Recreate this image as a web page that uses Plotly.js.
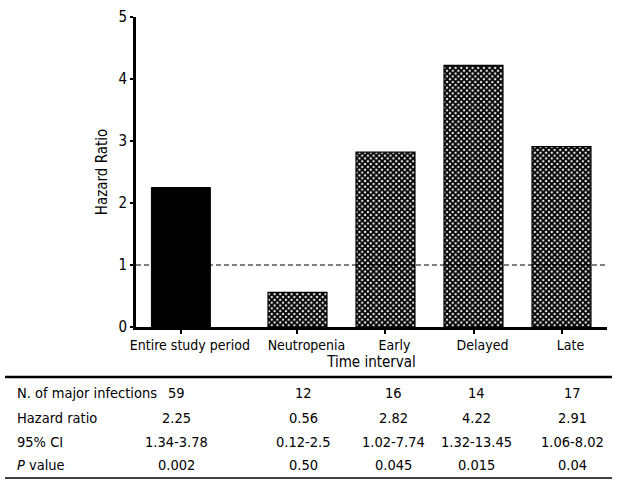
<!DOCTYPE html>
<html>
<head>
<meta charset="utf-8">
<script src="https://cdn.plot.ly/plotly-3.0.1.min.js"></script>
<style>html,body{margin:0;padding:0;background:#fff;}#chart{width:623px;height:487px;}</style>
</head>
<body>
<div id="chart"></div>
<script>
// ---- data ----
var categories = ["Entire study period", "Neutropenia", "Early", "Delayed", "Late"];
var hazardRatios = [2.25, 0.56, 2.82, 4.22, 2.91];
var nInfections = ["59", "12", "16", "14", "17"];
var hazardRatioText = ["2.25", "0.56", "2.82", "4.22", "2.91"];
var ci95 = ["1.34-3.78", "0.12-2.5", "1.02-7.74", "1.32-13.45", "1.06-8.02"];
var pValues = ["0.002", "0.50", "0.045", "0.015", "0.04"];
var rowLabels = ["N. of major infections", "Hazard ratio", "95% CI", "<i>P</i> value"];
var yTicks = [0, 1, 2, 3, 4, 5];
var referenceLine = 1;

// ---- layout helpers (positions) ----
var xPos = [0.51, 1.835, 2.835, 3.835, 4.835];
var FONT = "'Liberation Sans Narrow', 'DejaVu Sans Condensed', 'Arial Narrow', sans-serif";
var plotL = 136, plotR = 607, plotT = 17, plotB = 327;
function px2x(px){ return (px - plotL) / (plotR - plotL); }
function py2y(py){ return (plotB - py) / (plotB - plotT); }

var solid = {
  type: "bar", x: [xPos[0]], y: [hazardRatios[0]], width: 0.67,
  marker: {color: "#000", line: {color: "#000", width: 1}},
  hoverinfo: "skip", showlegend: false
};
var patterned = {
  type: "bar", x: xPos.slice(1), y: hazardRatios.slice(1), width: 0.67,
  marker: {color: "#fff", line: {color: "#000", width: 1.2},
    pattern: {shape: "x", size: 4, solidity: 0.72, fgcolor: "#000", bgcolor: "#fff", fillmode: "replace"}},
  hoverinfo: "skip", showlegend: false
};

var annotations = [];
var colX = [176, 303, 393, 476, 572];
var rowY = [393, 418, 442, 465];
var rows = [nInfections, hazardRatioText, ci95, pValues];
for (var r = 0; r < rows.length; r++) {
  annotations.push({xref: "paper", yref: "paper", x: px2x(15), y: py2y(rowY[r]),
    xanchor: "left", yanchor: "middle", text: rowLabels[r], showarrow: false,
    font: {family: FONT, size: 14.5, color: "#000"}});
  for (var c = 0; c < rows[r].length; c++) {
    annotations.push({xref: "paper", yref: "paper", x: px2x(colX[c]), y: py2y(rowY[r]),
      xanchor: "center", yanchor: "middle", text: rows[r][c], showarrow: false,
      font: {family: FONT, size: 14.5, color: "#000"}});
  }
}

var layout = {
  width: 623, height: 487,
  margin: {l: plotL, r: 623 - plotR, t: plotT, b: 487 - plotB, pad: 0},
  paper_bgcolor: "#fff", plot_bgcolor: "#fff",
  font: {family: FONT, color: "#000"},
  showlegend: false,
  bargap: 0,
  xaxis: {
    range: [0, 5.352], tickvals: xPos, ticktext: categories,
    ticks: "outside", ticklen: 4, tickwidth: 2, tickcolor: "#000",
    ticklabelshift: 9,
    showline: true, linecolor: "#000", linewidth: 2.5,
    showgrid: false, zeroline: false, fixedrange: true,
    tickfont: {family: FONT, size: 14, color: "#000"},
    title: {text: "Time interval", font: {family: FONT, size: 15, color: "#000"}, standoff: 2}
  },
  yaxis: {
    range: [0, 5], tickvals: yTicks,
    ticks: "outside", ticklen: 3, tickwidth: 2, tickcolor: "#000",
    showline: true, linecolor: "#000", linewidth: 3,
    showgrid: false, zeroline: false, fixedrange: true,
    tickfont: {family: FONT, size: 15, color: "#000"},
    title: {text: "Hazard Ratio", font: {family: FONT, size: 15, color: "#000"}, standoff: 8}
  },
  shapes: [
    {type: "line", xref: "paper", yref: "y", x0: 0, x1: 1, y0: referenceLine, y1: referenceLine,
      line: {color: "#000", width: 1, dash: "5px,3px"}, layer: "above"},
    {type: "line", xref: "paper", yref: "paper", x0: px2x(5), x1: px2x(612), y0: py2y(377), y1: py2y(377),
      line: {color: "#000", width: 2.5}},
    {type: "line", xref: "paper", yref: "paper", x0: px2x(5), x1: px2x(612), y0: py2y(478), y1: py2y(478),
      line: {color: "#000", width: 1.5}}
  ],
  annotations: annotations
};

Plotly.newPlot("chart", [solid, patterned], layout, {staticPlot: true, displayModeBar: false});
</script>
</body>
</html>
